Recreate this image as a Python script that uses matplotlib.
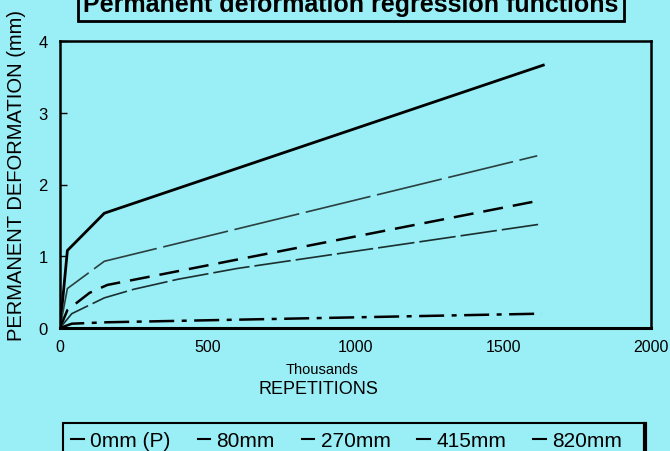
import matplotlib
matplotlib.use("Agg")
import matplotlib.pyplot as plt
from matplotlib.lines import Line2D
from matplotlib.patches import Rectangle

plt.rcParams['font.family'] = ['Liberation Sans', 'DejaVu Sans']

BG = '#9aeef5'

# Data (repetitions in thousands, deformation in mm)
x_0mm = [0, 25, 150, 1640]
y_0mm = [0, 1.08, 1.60, 3.67]
x_80mm = [0, 25, 150, 1615]
y_80mm = [0, 0.55, 0.93, 2.40]
x_270mm = [0, 25, 100, 160, 1615]
y_270mm = [0, 0.25, 0.49, 0.60, 1.77]
x_415mm = [0, 40, 150, 250, 400, 600, 1630]
y_415mm = [0, 0.20, 0.42, 0.54, 0.68, 0.83, 1.45]
x_820mm = [0, 40, 160, 1630]
y_820mm = [0, 0.06, 0.08, 0.20]

labels = ['0mm (P)', '80mm', '270mm', '415mm', '820mm']
x_ticks = [0, 500, 1000, 1500, 2000]
y_ticks = [0, 1, 2, 3, 4]

W, H = 670, 452
fig = plt.figure(figsize=(6.7, 4.52), dpi=100, facecolor=BG)
ax = fig.add_axes([60/W, 1-329/H, 591/W, 287/H])
ax.set_facecolor(BG)

ax.plot(x_0mm, y_0mm, color='black', lw=2.0, solid_capstyle='butt')
ax.plot(x_80mm, y_80mm, color='#2a4040', lw=1.2, linestyle=(0, (40, 4)))
ax.plot(x_270mm, y_270mm, color='black', lw=1.8, linestyle=(0, (8, 4)))
ax.plot(x_415mm, y_415mm, color='#1a3030', lw=1.2, linestyle=(0, (22, 3)))
ax.plot(x_820mm, y_820mm, color='black', lw=1.8, linestyle=(0, (10, 3, 2, 3)))

ax.set_xlim(0, 2000)
ax.set_ylim(0, 4)
ax.set_xticks(x_ticks)
ax.set_yticks(y_ticks)
ax.tick_params(axis='y', direction='in', length=5, width=1, labelsize=12, pad=9)
ax.tick_params(axis='x', length=0, labelsize=11.5, pad=8)
for s in ax.spines.values():
    s.set_linewidth(1.8)
ax.spines['bottom'].set_linewidth(2.2)

ax.set_ylabel('PERMANENT DEFORMATION (mm)', fontsize=14.5, va='center')
ax.yaxis.set_label_coords(-(60-17)/591, (329-176)/287)
fig.text(322/W, 1-370/H, 'Thousands', fontsize=10.5, ha='center', va='center')
fig.text(318/W, 1-390/H, 'REPETITIONS', fontsize=13, ha='center', va='center')

# Title box (partly cut at top, as in the original)
fig.text(351/W, 1-12/H, 'Permanent deformation regression functions',
         fontsize=18, fontweight='bold', ha='center', va='baseline',
         bbox=dict(boxstyle='square,pad=0.2', facecolor=BG, edgecolor='black', lw=2.0))

# Legend frame (cut at the bottom edge) and entries
fig.patches.append(Rectangle((63/W, -0.02), (645-63)/W, 0.02 + (H-424)/H,
                             transform=fig.transFigure, facecolor=BG,
                             edgecolor='black', lw=1.5, zorder=1))
fig.add_artist(Line2D([645/W, 645/W], [0, (H-425)/H], transform=fig.transFigure,
                      color='black', lw=3))
handles = [Line2D([0], [0], color='black', lw=1.5) for _ in labels]
leg = fig.legend(handles, labels, loc='upper left', ncol=5,
                 bbox_to_anchor=(63/W, 1-424/H), borderaxespad=0,
                 fontsize=15, handlelength=0.6, handletextpad=0.3,
                 columnspacing=1.3, frameon=False, borderpad=0.4)

fig.savefig('out.png', dpi=100, facecolor=BG)
